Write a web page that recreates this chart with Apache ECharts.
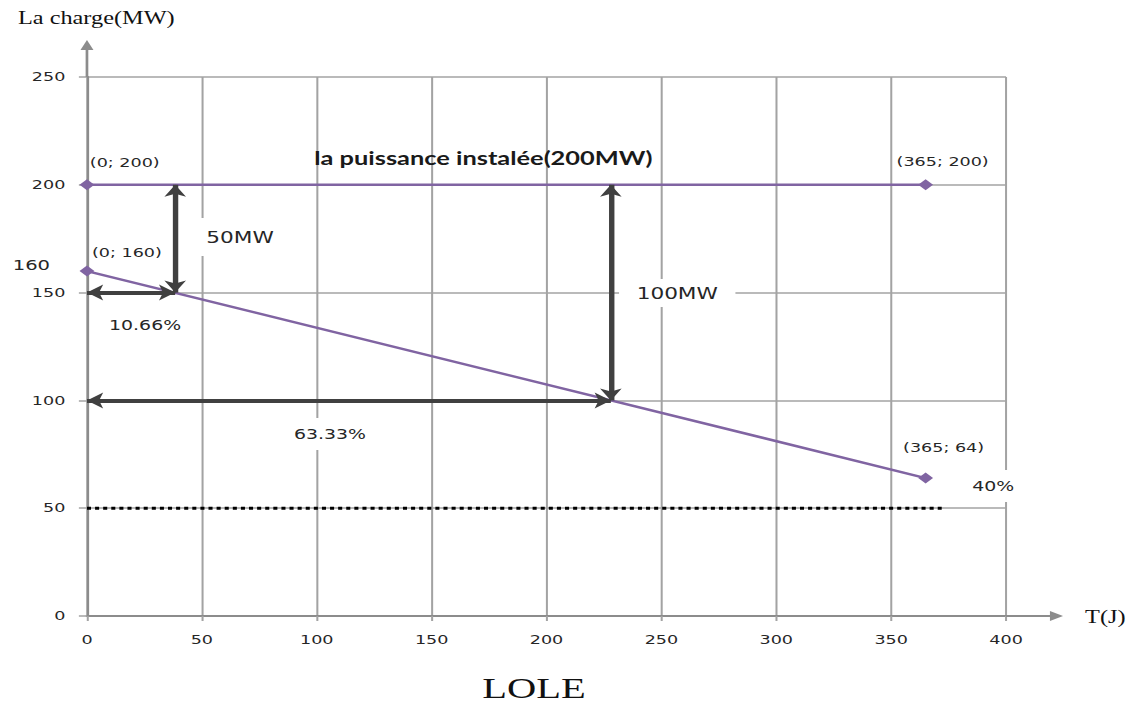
<!DOCTYPE html>
<html>
<head>
<meta charset="utf-8">
<script src="https://cdn.jsdelivr.net/npm/echarts@6/dist/echarts.min.js"></script>
<style>
  html, body { margin: 0; padding: 0; background: #fff; overflow: hidden; }
  /* the chart is laid out narrow and stretched horizontally */
  #chart { width: 842px; height: 706px; transform: scaleX(1.3504); transform-origin: 0 0; }
</style>
</head>
<body>
<div id="chart"></div>
<script>
// Axis ticks
const xTickValues = [0, 50, 100, 150, 200, 250, 300, 350, 400];
const yTickValues = [0, 50, 100, 150, 200, 250];

// Installed power (MW) over the year
const installedPower = [[0, 200], [365, 200]];
// Load duration curve (MW)
const loadCurve = [[0, 160], [365, 64]];
// Dotted reference level
const thresholdLine = [[0, 50], [372, 50]];
// Double-headed dimension arrows: [start, end]
const gapArrows = [
  [[38.4, 200], [38.4, 150]],
  [[0, 150], [38.4, 150]],
  [[228, 200], [228, 100]],
  [[0, 100], [228, 100]]
];
// Annotation texts
const noteLabels = ['50MW', '100MW', '10.66%', '63.33%', '40%'];
const capacityTitle = 'la puissance instalée(200MW)';
const sideValue = '160';
const yAxisTitle = 'La charge(MW)';
const xAxisTitle = 'T(J)';
const chartCaption = 'LOLE';

const PURPLE = '#8064a2';
const GRID = '#a3a3a3';
const AXIS = '#8c8c8c';
const TEXT = '#262626';
const SANS = '"DejaVu Sans", Verdana, sans-serif';
const SERIF = '"Liberation Serif", "Times New Roman", serif';

const chart = echarts.init(document.getElementById('chart'), null, { renderer: 'svg' });

const pointLabel = {
  show: true,
  position: 'top',
  distance: 0,
  align: 'center',
  verticalAlign: 'middle',
  color: TEXT,
  fontFamily: SANS,
  fontSize: 13,
  formatter: p => '(' + p.value[0] + '; ' + p.value[1] + ')'
};
const installedOffsets = [[28, -16.5], [12.6, -17.5]];
const loadOffsets = [[29.6, -12.5], [13.3, -24.5]];

const purpleSeries = (name, pts, offsets) => ({
  name,
  type: 'line',
  data: pts.map((v, i) => ({ value: v, label: { offset: offsets[i] } })),
  symbol: 'diamond',
  symbolSize: [11, 11],
  itemStyle: { color: PURPLE },
  lineStyle: { color: PURPLE, width: 2.4 },
  label: pointLabel,
  z: 3
});

chart.setOption({
  animation: false,
  grid: { left: 64.4, right: 97, top: 77, bottom: 90 },
  xAxis: {
    type: 'value',
    min: xTickValues[0],
    max: xTickValues[xTickValues.length - 1],
    interval: xTickValues[1] - xTickValues[0],
    axisLine: { show: true, onZero: false, lineStyle: { color: AXIS, width: 2 } },
    axisTick: { show: true, length: 5, lineStyle: { color: GRID, width: 1.5 } },
    axisLabel: { color: TEXT, fontFamily: SANS, fontSize: 13, margin: 17 },
    splitLine: { show: true, lineStyle: { color: GRID, width: 1.5 } }
  },
  yAxis: {
    type: 'value',
    min: yTickValues[0],
    max: yTickValues[yTickValues.length - 1],
    interval: yTickValues[1] - yTickValues[0],
    axisLine: { show: true, onZero: false, lineStyle: { color: AXIS, width: 2 } },
    axisTick: { show: true, length: 6, lineStyle: { color: GRID, width: 1.5 } },
    axisLabel: { color: TEXT, fontFamily: SANS, fontSize: 13, margin: 16 },
    splitLine: { show: true, lineStyle: { color: GRID, width: 1.5 } }
  },
  series: [
    purpleSeries('installed', installedPower, installedOffsets),
    purpleSeries('load', loadCurve, loadOffsets),
    {
      name: 'threshold',
      type: 'line',
      data: thresholdLine,
      symbol: 'none',
      lineStyle: { color: '#000', width: 3, type: [3, 3] },
      z: 2,
      markLine: {
        silent: true,
        symbol: ['arrow', 'arrow'],
        symbolSize: [12, 12],
        label: { show: false },
        emphasis: { disabled: true },
        lineStyle: { color: '#404040', width: 4, type: 'solid' },
        data: gapArrows.map(([a, b]) => [{ coord: a }, { coord: b }])
      }
    }
  ]
});

// Decorations placed from data coordinates
const P = (x, y) => chart.convertToPixel({ gridIndex: 0 }, [x, y]);
const topEnd = P(0, 250);
const rightEnd = P(400, 0);

const text = (str, pos, opts) => ({
  type: 'text',
  x: pos[0],
  y: pos[1],
  z: 50,
  style: Object.assign({
    text: str,
    align: 'center',
    verticalAlign: 'middle',
    fill: TEXT,
    fontFamily: SANS
  }, opts)
});

const notePlacement = [
  { at: [66.6, 175.8], fontSize: 16, padding: [11, 5] },
  { at: [256.9, 149.8], fontSize: 16, padding: [6, 13] },
  { at: [25.3, 135], fontSize: 14, padding: [2, 2] },
  { at: [105.8, 84.4], fontSize: 14, padding: [9, 8] },
  { at: [394.4, 60.3], fontSize: 14, padding: [9, 6] }
];

const graphics = [
  // axis extensions with arrowheads
  { type: 'line', z: 40, shape: { x1: topEnd[0], y1: topEnd[1], x2: topEnd[0], y2: 49 },
    style: { stroke: AXIS, lineWidth: 2 } },
  { type: 'polygon', z: 40, shape: { points: [[topEnd[0], 40], [topEnd[0] - 4.8, 50], [topEnd[0] + 4.8, 50]] },
    style: { fill: AXIS } },
  { type: 'line', z: 40, shape: { x1: rightEnd[0], y1: rightEnd[1], x2: 778, y2: rightEnd[1] },
    style: { stroke: AXIS, lineWidth: 2 } },
  { type: 'polygon', z: 40, shape: { points: [[787.2, rightEnd[1]], [777.5, rightEnd[1] - 5], [777.5, rightEnd[1] + 5]] },
    style: { fill: AXIS } }
];

noteLabels.forEach((t, i) => {
  const pl = notePlacement[i];
  graphics.push(text(t, P(pl.at[0], pl.at[1]), {
    fontSize: pl.fontSize,
    backgroundColor: '#fff',
    padding: pl.padding
  }));
});

graphics.push(text(capacityTitle, P(172.5, 212.3), {
  fontFamily: 'Lato, "Open Sans", sans-serif', fontWeight: 'bold', fontSize: 18.8, fill: '#1a1a1a'
}));
graphics.push(text(sideValue, P(-24.2, 162.8), { fontSize: 14.5 }));
graphics.push(text(yAxisTitle, [13.3, 18], { align: 'left', fontFamily: SERIF, fontSize: 18, fill: '#111' }));
graphics.push(text(xAxisTitle, [803.5, rightEnd[1] + 1], { align: 'left', fontFamily: SERIF, fontSize: 18, fill: '#111' }));
graphics.push(text(chartCaption, [395.4, 688], { fontFamily: SERIF, fontSize: 30, fill: '#111' }));

chart.setOption({ graphic: graphics });
</script>
</body>
</html>
